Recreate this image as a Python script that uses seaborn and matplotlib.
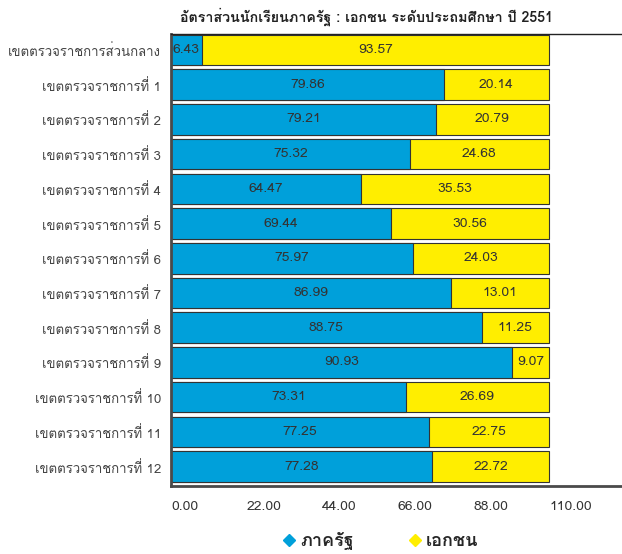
import matplotlib
matplotlib.use("Agg")
import matplotlib.pyplot as plt
from matplotlib import font_manager
from matplotlib.lines import Line2D
import seaborn as sns
import pandas as pd

# data
regions = ["เขตตรวจราชการส่วนกลาง"] + ["เขตตรวจราชการที่ %d" % i for i in range(1, 13)]
# percentages printed on the bars
state_label = [6.43, 79.86, 79.21, 75.32, 64.47, 69.44, 75.97, 86.99, 88.75, 90.93, 73.31, 77.25, 77.28]
private_label = [93.57, 20.14, 20.79, 24.68, 35.53, 30.56, 24.03, 13.01, 11.25, 9.07, 26.69, 22.75, 22.72]
# share of the bar drawn as state (they do not follow the labels)
state_bar = [8.07, 72.2, 70.1, 63.2, 50.2, 58.1, 64.1, 74.2, 82.2, 90.2, 62.1, 68.2, 69.1]
bar_total = [100] * len(regions)
tick_pos = [0, 20, 40, 60, 80, 100]
tick_labels = ["0.00", "22.00", "44.00", "66.00", "88.00", "110.00"]
title = "อัตราส่วนนักเรียนภาครัฐ : เอกชน ระดับประถมศึกษา ปี 2551"
legend_labels = ["ภาครัฐ", "เอกชน"]

BLUE = "#00A0DA"
YELLOW = "#FFEE00"


def find_thai_font():
    # look for any installed font that has Thai glyphs
    try:
        from fontTools.ttLib import TTFont
    except ImportError:
        return None
    names = []
    for f in font_manager.fontManager.ttflist:
        try:
            tt = TTFont(f.fname, fontNumber=0, lazy=True)
            cmap = tt.getBestCmap()
            if cmap and 0x0E40 in cmap and 0x0E23 in cmap:
                names.append(f.name)
        except Exception:
            pass
    return names[0] if names else None


sns.set_theme(style="white")
thai = find_thai_font()
fams = ([thai] if thai else []) + ["DejaVu Sans"]
plt.rcParams["font.family"] = fams

df = pd.DataFrame({"region": regions, "state": state_bar, "total": bar_total})

fig = plt.figure(figsize=(6.22, 5.54), dpi=100)
ax = fig.add_axes([171 / 622, 1 - 486 / 554, 1 - 171 / 622, (486 - 34) / 554])

# yellow drawn as full total, blue on top
sns.barplot(data=df, y="region", x="total", color=YELLOW, edgecolor="#333333",
            linewidth=0.8, width=0.88, ax=ax, orient="h", saturation=1)
sns.barplot(data=df, y="region", x="state", color=BLUE, edgecolor="#333333",
            linewidth=0.8, width=0.88, ax=ax, orient="h", saturation=1)

for i in range(len(regions)):
    s = state_bar[i]
    t = bar_total[i]
    ax.text(s / 2, i, "%.2f" % state_label[i], ha="center", va="center", fontsize=10, color="#333333")
    ax.text((s + t) / 2, i, "%.2f" % private_label[i], ha="center", va="center", fontsize=10, color="#333333")

ax.set_ylim(12.56, -0.46)
ax.set_xlim(0, 451 / 3.78)
ax.set_yticks(range(len(regions)))
ax.set_yticklabels(regions, fontsize=9.5, color="#444444")
ax.set_xticks(tick_pos)
ax.set_xticklabels(tick_labels, fontsize=10, color="#333333", ha="left")
ax.tick_params(axis="y", length=0, pad=7)
ax.tick_params(axis="x", length=0, pad=11)
ax.set_xlabel("")
ax.set_ylabel("")

for side in ["left", "bottom"]:
    ax.spines[side].set_color("#4a4a4a")
    ax.spines[side].set_linewidth(2)
ax.spines["top"].set_color("#222222")
ax.spines["top"].set_linewidth(1)
ax.spines["right"].set_visible(False)

fig.text(367 / 622, 1 - 17 / 554, title, ha="center", va="center", fontsize=10.3, fontweight="bold", color="#222222")

handles = [Line2D([], [], marker="D", linestyle="", color=BLUE, markersize=6),
           Line2D([], [], marker="D", linestyle="", color=YELLOW, markersize=6)]
fig.legend(handles, legend_labels, loc="center", bbox_to_anchor=(380 / 622, 1 - 541 / 554),
           ncol=2, frameon=False, prop={"size": 13, "weight": "bold"},
           handletextpad=0.2, columnspacing=3, handlelength=0.8)

fig.savefig("out.png", dpi=100)
